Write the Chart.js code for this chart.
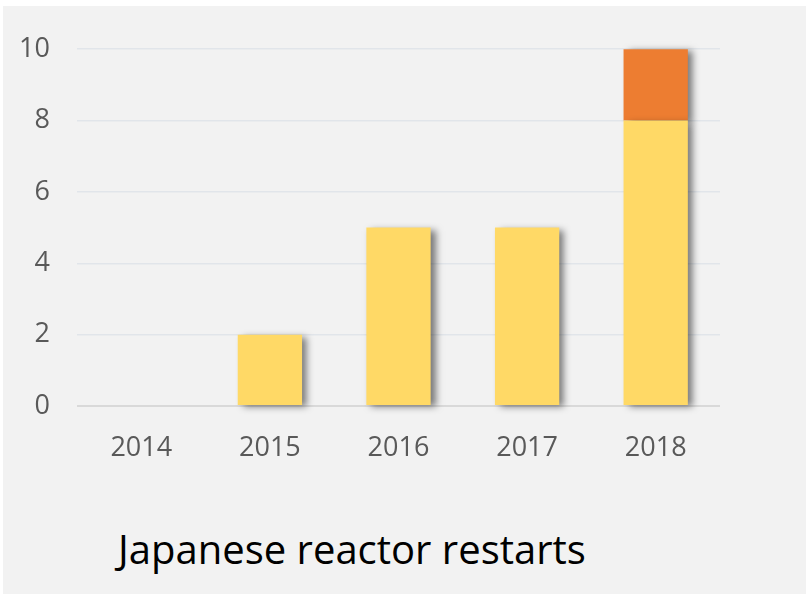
<!DOCTYPE html>
<html>
<head>
<meta charset="utf-8">
<script src="https://cdn.jsdelivr.net/npm/chart.js@4"></script>
<style>
  html, body { margin: 0; padding: 0; background: #fff; }
  .chart__box {
    position: absolute;
    left: 3px; top: 6px;
    width: 803px; height: 588px;
    background: #f2f2f2;
  }
  .chart__canvas { position: absolute; left: 0; top: 0; }
  .chart__title {
    position: absolute;
    left: 115px; top: 523px;
    font: 40px/40px "Open Sans", sans-serif;
    color: #000;
    white-space: nowrap;
  }
</style>
</head>
<body>
<div class="chart__box">
  <canvas class="chart__canvas" id="chart" width="803" height="480"></canvas>
  <div class="chart__title">Japanese reactor restarts</div>
</div>
<script>
// data
const years = ['2014', '2015', '2016', '2017', '2018'];
const restarted = [0, 2, 5, 5, 8];
const extra = [0, 0, 0, 0, 2];
const yTicks = [0, 2, 4, 6, 8, 10];

// soft shadow behind bars
const barShadow = {
  id: 'barShadow',
  beforeDatasetsDraw(chart) {
    const ctx = chart.ctx;
    ctx.save();
    ctx.shadowColor = 'rgba(0, 0, 0, 0.5)';
    ctx.shadowBlur = 7;
    ctx.shadowOffsetX = 5;
    ctx.shadowOffsetY = 2;
  },
  afterDatasetsDraw(chart) {
    chart.ctx.restore();
  }
};

new Chart(document.getElementById('chart'), {
  type: 'bar',
  data: {
    labels: years,
    datasets: [
      {
        label: 'Restarts',
        data: restarted,
        backgroundColor: '#FFD966',
        barPercentage: 0.5,
        categoryPercentage: 1,
        clip: false
      },
      {
        label: 'Restarts (other)',
        data: extra,
        backgroundColor: '#ED7D31',
        barPercentage: 0.5,
        categoryPercentage: 1,
        clip: false
      }
    ]
  },
  options: {
    responsive: false,
    animation: false,
    layout: {
      padding: { left: 14, right: 86, top: 41, bottom: 20 }
    },
    plugins: {
      legend: { display: false },
      tooltip: { enabled: false },
      title: { display: false }
    },
    scales: {
      x: {
        stacked: true,
        grid: { display: false, drawTicks: false },
        border: { display: false },
        ticks: {
          color: '#595959',
          padding: 26,
          font: { family: '"Open Sans", sans-serif', size: 27 }
        },
        afterFit(s) { s.height = 60; }
      },
      y: {
        stacked: true,
        min: 0,
        max: 10,
        afterBuildTicks(s) { s.ticks = yTicks.map(v => ({ value: v })); },
        grid: {
          drawTicks: false,
          color: ctx => ctx.tick && ctx.tick.value === 0 ? '#d9d9d9' : '#e1e5ea',
          lineWidth: ctx => ctx.tick && ctx.tick.value === 0 ? 2 : 1.5
        },
        border: { display: false },
        ticks: {
          color: '#595959',
          padding: 27,
          font: { family: '"Open Sans", sans-serif', size: 27 }
        },
        afterFit(s) { s.width = 60; }
      }
    }
  },
  plugins: [barShadow]
});
</script>
</body>
</html>
